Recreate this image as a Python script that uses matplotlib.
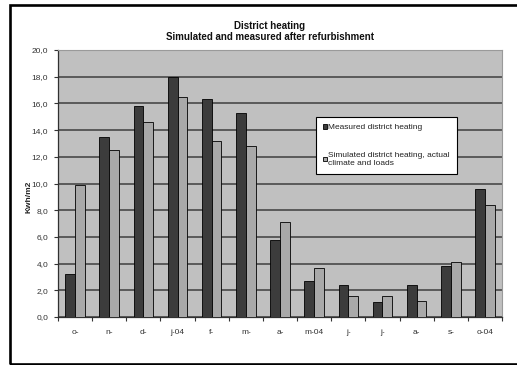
import matplotlib
matplotlib.use("Agg")
import matplotlib.pyplot as plt
from matplotlib.patches import Rectangle
import numpy as np

plt.rcParams["font.family"] = ["Liberation Sans", "DejaVu Sans"]

months = ["o-", "n-", "d-", "j-04", "f-", "m-", "a-", "m-04", "j-", "j-", "a-", "s-", "o-04"]
measured = [3.2, 13.5, 15.8, 18.0, 16.3, 15.3, 5.8, 2.7, 2.4, 1.1, 2.4, 3.8, 9.6]
simulated = [9.9, 12.5, 14.6, 16.5, 13.2, 12.8, 7.1, 3.7, 1.6, 1.6, 1.2, 4.1, 8.4]
y_ticks = [0, 2, 4, 6, 8, 10, 12, 14, 16, 18, 20]
y_tick_labels = ["0,0", "2,0", "4,0", "6,0", "8,0", "10,0", "12,0", "14,0", "16,0", "18,0", "20,0"]

W, H = 517, 365
fig = plt.figure(figsize=(W / 100, H / 100), dpi=100)
fig.patch.set_facecolor("white")

# outer frame
fig.patches.append(Rectangle((10 / W, 1 / H), 1.2, (H - 6) / H, transform=fig.transFigure,
                             fill=False, edgecolor="black", linewidth=1.9, clip_on=False))

left, right, top, bottom = 58, 502, 50, 317
ax = fig.add_axes([left / W, (H - bottom) / H, (right - left) / W, (bottom - top) / H])
ax.set_facecolor("#c0c0c0")

x = np.arange(len(months))
bw = 1 / 3.5
ax.bar(x - bw / 2, measured, bw, color="#3c3c3c", edgecolor="black", linewidth=0.6,
       label="Measured district heating", zorder=3)
ax.bar(x + bw / 2, simulated, bw, color="#a9a9a9", edgecolor="black", linewidth=0.6,
       label="Simulated district heating, actual\nclimate and loads", zorder=3)

ax.set_xlim(-0.5, len(months) - 0.5)
ax.set_ylim(0, 20)
ax.set_yticks(y_ticks)
ax.set_yticklabels(y_tick_labels)
ax.yaxis.grid(True, color="#484848", linewidth=1.2, zorder=1)
ax.set_axisbelow(True)

ax.set_xticks(x)
ax.set_xticklabels(months)
ax.set_xticks(np.arange(-0.5, len(months)), minor=True)
ax.tick_params(axis="x", which="major", length=0, pad=9, labelsize=6, colors="#333333")
ax.tick_params(axis="x", which="minor", length=3, width=0.8, direction="out", color="#333333")
ax.tick_params(axis="y", length=3, width=0.8, pad=4, labelsize=6, colors="#333333")

for side in ["top", "right"]:
    ax.spines[side].set_color("#9a9a9a")
    ax.spines[side].set_linewidth(0.8)
for side in ["left", "bottom"]:
    ax.spines[side].set_color("#303030")
    ax.spines[side].set_linewidth(0.9)

ax.set_ylabel("Kwh/m2", fontsize=6, fontweight="bold", color="#222222")
ax.yaxis.set_label_coords(-0.058, 0.45)

fig.text(270 / W, 1 - 26 / H, "District heating", ha="center", va="center",
         fontsize=7, fontweight="bold", color="#111111")
fig.text(270 / W, 1 - 37 / H, "Simulated and measured after refurbishment", ha="center",
         va="center", fontsize=7, fontweight="bold", color="#111111")

leg = ax.legend(loc="upper left", bbox_to_anchor=((316 - left) / (right - left), (bottom - 117) / (bottom - top)),
                fontsize=6, frameon=True, fancybox=False, edgecolor="black", facecolor="white",
                framealpha=1, handlelength=0.45, handleheight=0.45, handletextpad=0.15,
                labelspacing=2.5, borderpad=0.85, borderaxespad=0)
leg.get_frame().set_linewidth(0.8)
for t in leg.get_texts():
    t.set_color("#222222")

fig.savefig("out.png", dpi=100)
